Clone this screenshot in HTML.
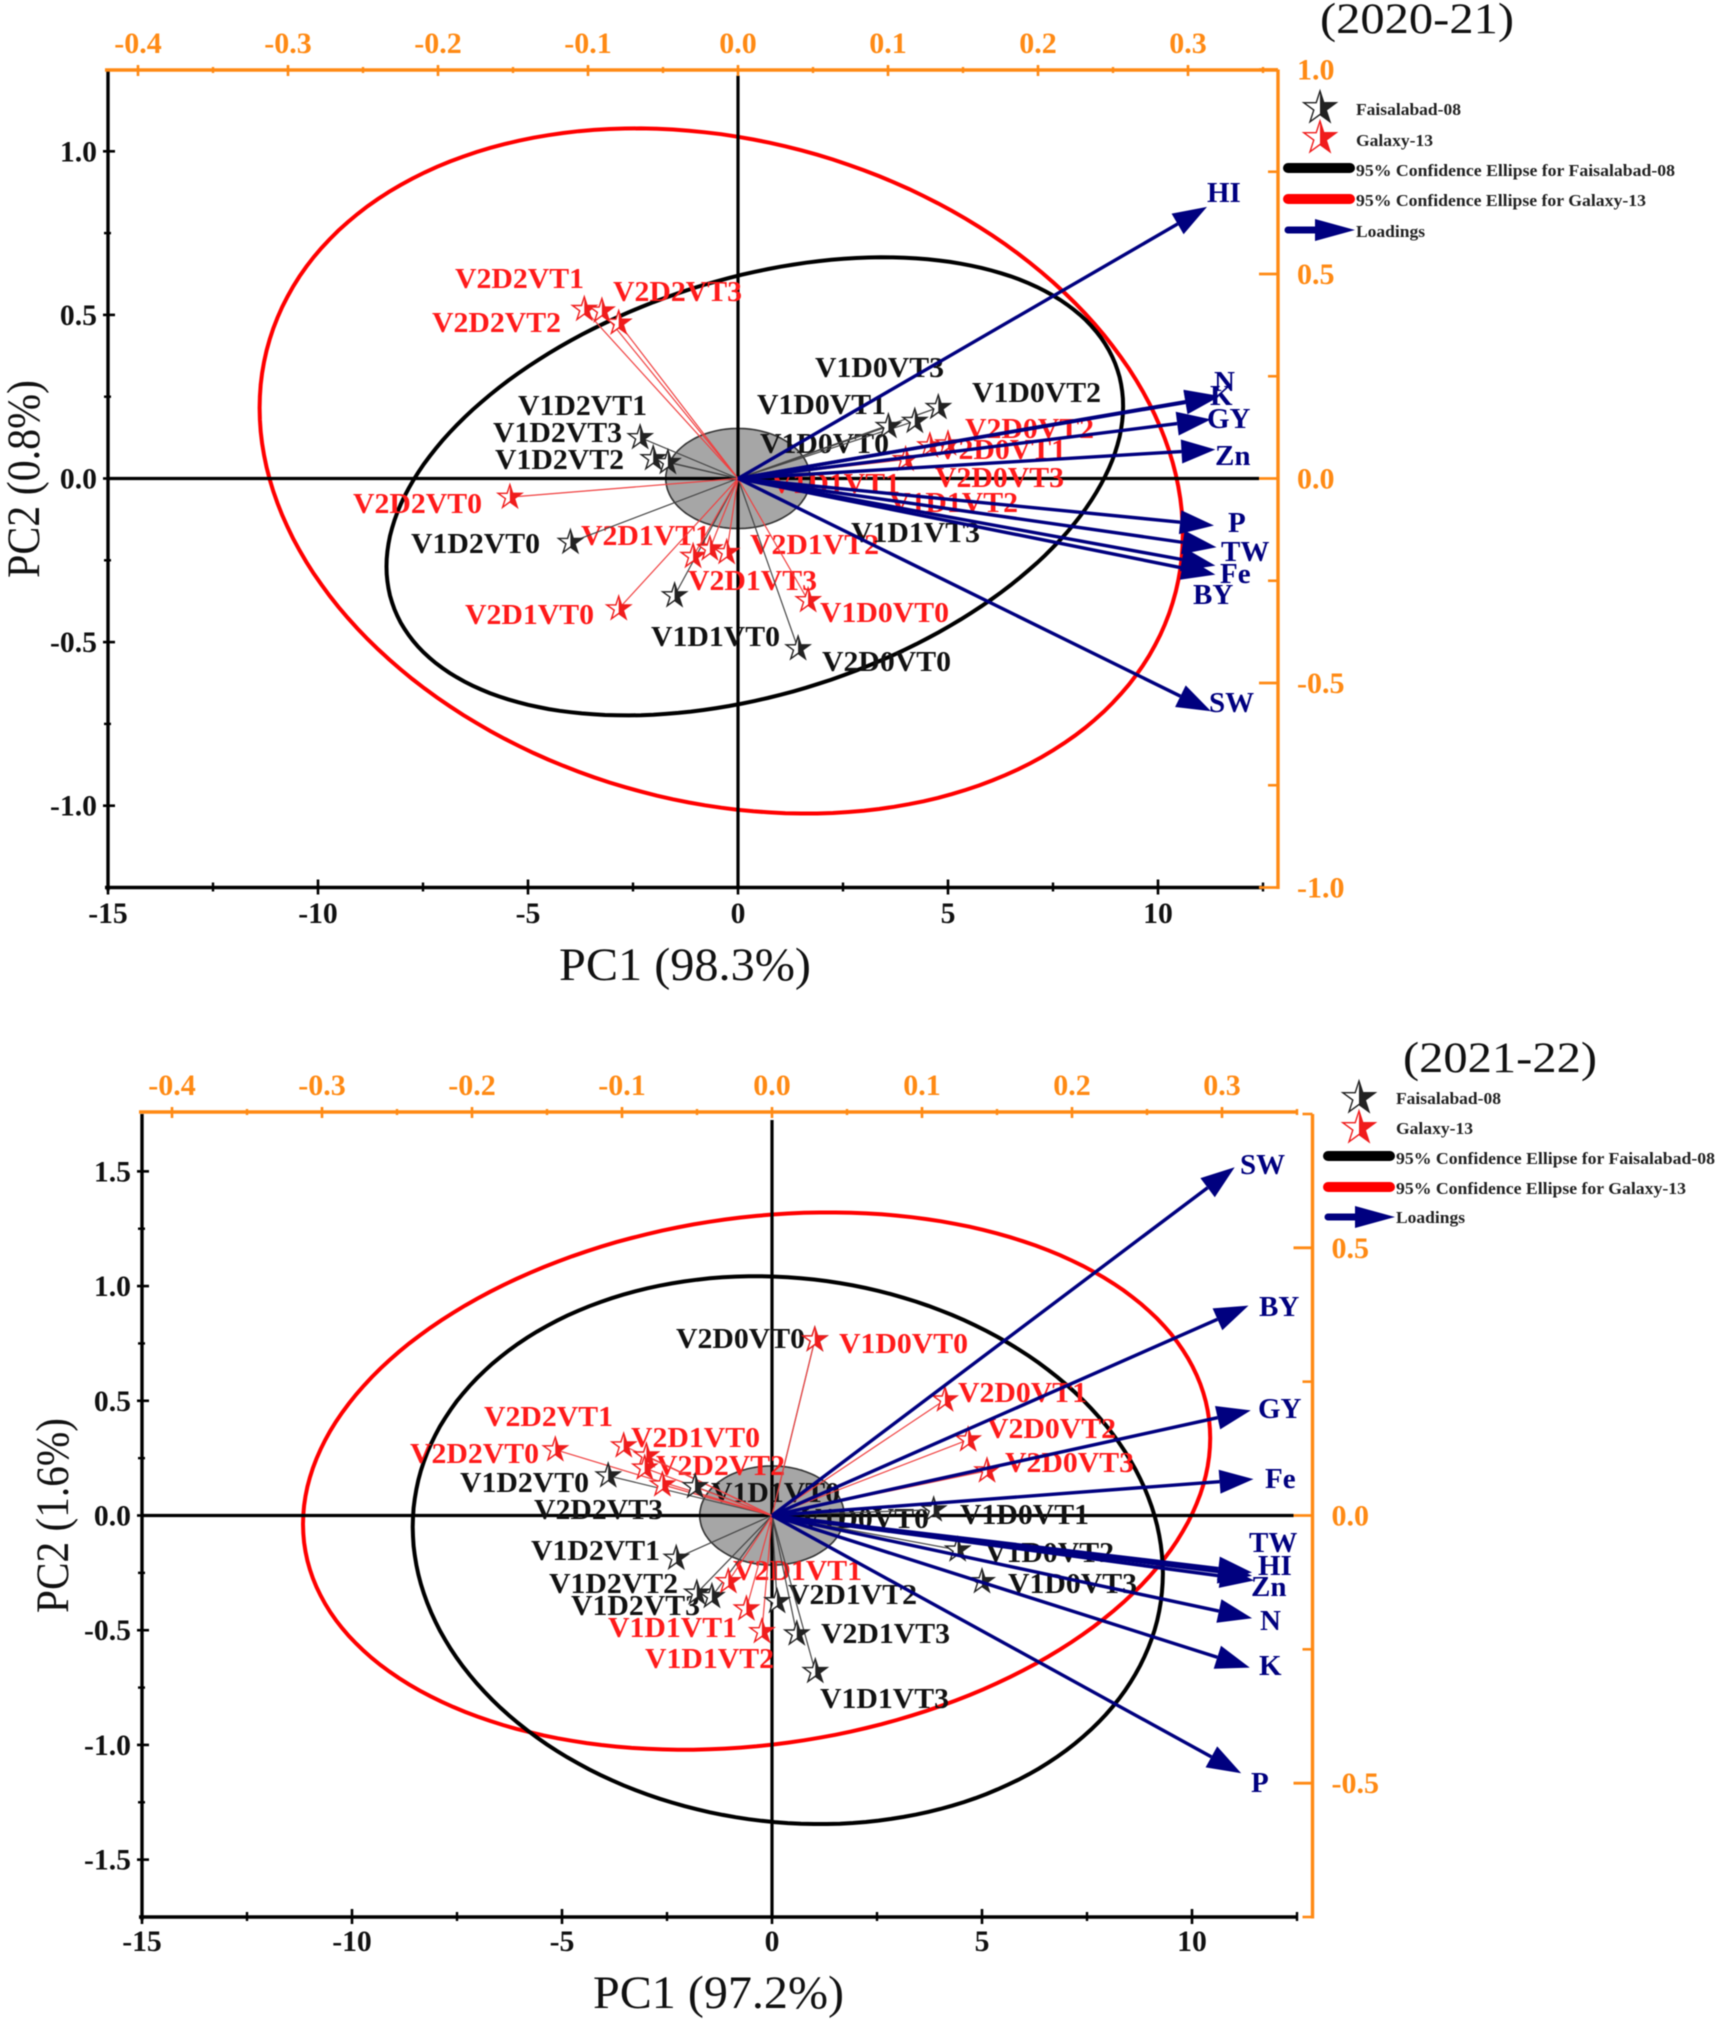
<!DOCTYPE html>
<html lang="en">
<head>
<meta charset="utf-8">
<title>PCA biplots 2020-21 and 2021-22</title>
<style>
html,body{margin:0;padding:0;background:#fff;}
svg{display:block;filter:blur(0.5px);}
text{font-family:"Liberation Serif",serif;}
.lb{font-size:29px;font-weight:bold;}
.r{fill:#ff1a1a;}
.k{fill:#111;}
.n{fill:#00007f;font-size:29px;font-weight:bold;}
.lg{font-size:17px;font-weight:bold;fill:#222;}
.ti{font-size:47px;fill:#111;}
.yr{font-size:43px;fill:#111;}
</style>
</head>
<body>
<svg id="chart" xmlns="http://www.w3.org/2000/svg" width="1719" height="2021" viewBox="0 0 1719 2021">
<rect width="1719" height="2021" fill="#fff"/>

<g id="p1-under"></g>
<g>
<text class="lb r" x="455" y="288" textLength="129" lengthAdjust="spacingAndGlyphs">V2D2VT1</text>
<text class="lb r" x="613" y="301" textLength="129" lengthAdjust="spacingAndGlyphs">V2D2VT3</text>
<text class="lb r" x="432" y="332" textLength="129" lengthAdjust="spacingAndGlyphs">V2D2VT2</text>
<text class="lb r" x="353" y="513" textLength="129" lengthAdjust="spacingAndGlyphs">V2D2VT0</text>
<text class="lb r" x="581" y="545" textLength="129" lengthAdjust="spacingAndGlyphs">V2D1VT1</text>
<text class="lb r" x="465" y="624" textLength="129" lengthAdjust="spacingAndGlyphs">V2D1VT0</text>
<text class="lb r" x="688" y="590" textLength="129" lengthAdjust="spacingAndGlyphs">V2D1VT3</text>
<text class="lb r" x="750" y="554" textLength="129" lengthAdjust="spacingAndGlyphs">V2D1VT2</text>
<text class="lb r" x="820" y="622" textLength="129" lengthAdjust="spacingAndGlyphs">V1D0VT0</text>
<text class="lb r" x="965" y="438" textLength="129" lengthAdjust="spacingAndGlyphs">V2D0VT2</text>
<text class="lb r" x="937" y="459" textLength="129" lengthAdjust="spacingAndGlyphs">V2D0VT1</text>
<text class="lb r" x="935" y="487" textLength="129" lengthAdjust="spacingAndGlyphs">V2D0VT3</text>
<text class="lb r" x="889" y="512" textLength="129" lengthAdjust="spacingAndGlyphs">V1D1VT2</text>
<text class="lb r" x="771" y="493" textLength="129" lengthAdjust="spacingAndGlyphs">V1D1VT1</text>
<text class="lb k" x="518" y="415" textLength="129" lengthAdjust="spacingAndGlyphs">V1D2VT1</text>
<text class="lb k" x="493" y="442" textLength="129" lengthAdjust="spacingAndGlyphs">V1D2VT3</text>
<text class="lb k" x="495" y="469" textLength="129" lengthAdjust="spacingAndGlyphs">V1D2VT2</text>
<text class="lb k" x="815" y="377" textLength="129" lengthAdjust="spacingAndGlyphs">V1D0VT3</text>
<text class="lb k" x="757" y="414" textLength="129" lengthAdjust="spacingAndGlyphs">V1D0VT1</text>
<text class="lb k" x="760" y="453" textLength="129" lengthAdjust="spacingAndGlyphs">V1D0VT0</text>
<text class="lb k" x="972" y="402" textLength="129" lengthAdjust="spacingAndGlyphs">V1D0VT2</text>
<text class="lb k" x="411" y="553" textLength="129" lengthAdjust="spacingAndGlyphs">V1D2VT0</text>
<text class="lb k" x="651" y="646" textLength="129" lengthAdjust="spacingAndGlyphs">V1D1VT0</text>
<text class="lb k" x="822" y="671" textLength="129" lengthAdjust="spacingAndGlyphs">V2D0VT0</text>
<text class="lb k" x="851" y="542" textLength="129" lengthAdjust="spacingAndGlyphs">V1D1VT3</text>
</g>
<g id="p1-over"></g>
<g>
<text class="n" x="1207" y="202">HI</text>
<text class="n" x="1214" y="391">N</text>
<text class="n" x="1210" y="405">K</text>
<text class="n" x="1207" y="428">GY</text>
<text class="n" x="1215" y="465">Zn</text>
<text class="n" x="1228" y="532">P</text>
<text class="n" x="1221" y="561">TW</text>
<text class="n" x="1220" y="583">Fe</text>
<text class="n" x="1193" y="604">BY</text>
<text class="n" x="1209" y="712">SW</text>
</g>
<text class="ti" x="559" y="980" textLength="252" lengthAdjust="spacingAndGlyphs">PC1 (98.3%)</text>
<text class="ti" x="39" y="578" transform="rotate(-90 39 578)" textLength="198" lengthAdjust="spacingAndGlyphs">PC2 (0.8%)</text>
<text class="yr" x="1320" y="33" textLength="194" lengthAdjust="spacingAndGlyphs">(2020-21)</text>
<g id="legend-2020">
<text class="lg" x="1356" y="115" textLength="105" lengthAdjust="spacingAndGlyphs">Faisalabad-08</text>
<text class="lg" x="1356" y="146" textLength="77" lengthAdjust="spacingAndGlyphs">Galaxy-13</text>
<line x1="1288" y1="168" x2="1350" y2="168" stroke="#000" stroke-width="10" stroke-linecap="round"/>
<text class="lg" x="1356" y="176" textLength="319" lengthAdjust="spacingAndGlyphs">95% Confidence Ellipse for Faisalabad-08</text>
<line x1="1288" y1="199" x2="1350" y2="199" stroke="#f00" stroke-width="10" stroke-linecap="round"/>
<text class="lg" x="1356" y="206" textLength="290" lengthAdjust="spacingAndGlyphs">95% Confidence Ellipse for Galaxy-13</text>
<line x1="1288" y1="230" x2="1325" y2="230" stroke="#00007f" stroke-width="7" stroke-linecap="round"/>
<polygon points="1315,219 1355,230 1315,241" fill="#00007f"/>
<text class="lg" x="1356" y="237" textLength="69" lengthAdjust="spacingAndGlyphs">Loadings</text>
</g>

<g id="p2-under"></g>
<g>
<text class="lb r" x="484" y="1426" textLength="129" lengthAdjust="spacingAndGlyphs">V2D2VT1</text>
<text class="lb r" x="631" y="1447" textLength="129" lengthAdjust="spacingAndGlyphs">V2D1VT0</text>
<text class="lb r" x="410" y="1463" textLength="129" lengthAdjust="spacingAndGlyphs">V2D2VT0</text>
<text class="lb r" x="656" y="1475" textLength="129" lengthAdjust="spacingAndGlyphs">V2D2VT2</text>
<text class="lb k" x="460" y="1492" textLength="129" lengthAdjust="spacingAndGlyphs">V1D2VT0</text>
<text class="lb k" x="534" y="1519" textLength="129" lengthAdjust="spacingAndGlyphs">V2D2VT3</text>
<text class="lb k" x="711" y="1502" textLength="129" lengthAdjust="spacingAndGlyphs">V1D1VT0</text>
<text class="lb k" x="800" y="1528" textLength="129" lengthAdjust="spacingAndGlyphs">V1D0VT0</text>
<text class="lb k" x="676" y="1348" textLength="129" lengthAdjust="spacingAndGlyphs">V2D0VT0</text>
<text class="lb r" x="839" y="1353" textLength="129" lengthAdjust="spacingAndGlyphs">V1D0VT0</text>
<text class="lb r" x="958" y="1402" textLength="129" lengthAdjust="spacingAndGlyphs">V2D0VT1</text>
<text class="lb r" x="987" y="1438" textLength="129" lengthAdjust="spacingAndGlyphs">V2D0VT2</text>
<text class="lb r" x="1005" y="1472" textLength="129" lengthAdjust="spacingAndGlyphs">V2D0VT3</text>
<text class="lb k" x="960" y="1524" textLength="129" lengthAdjust="spacingAndGlyphs">V1D0VT1</text>
<text class="lb k" x="985" y="1562" textLength="129" lengthAdjust="spacingAndGlyphs">V1D0VT2</text>
<text class="lb k" x="1008" y="1593" textLength="129" lengthAdjust="spacingAndGlyphs">V1D0VT3</text>
<text class="lb k" x="531" y="1560" textLength="129" lengthAdjust="spacingAndGlyphs">V1D2VT1</text>
<text class="lb k" x="549" y="1593" textLength="129" lengthAdjust="spacingAndGlyphs">V1D2VT2</text>
<text class="lb k" x="571" y="1615" textLength="129" lengthAdjust="spacingAndGlyphs">V1D2VT3</text>
<text class="lb r" x="733" y="1580" textLength="129" lengthAdjust="spacingAndGlyphs">V2D1VT1</text>
<text class="lb k" x="788" y="1604" textLength="129" lengthAdjust="spacingAndGlyphs">V2D1VT2</text>
<text class="lb k" x="821" y="1643" textLength="129" lengthAdjust="spacingAndGlyphs">V2D1VT3</text>
<text class="lb r" x="608" y="1637" textLength="129" lengthAdjust="spacingAndGlyphs">V1D1VT1</text>
<text class="lb r" x="645" y="1668" textLength="129" lengthAdjust="spacingAndGlyphs">V1D1VT2</text>
<text class="lb k" x="820" y="1708" textLength="129" lengthAdjust="spacingAndGlyphs">V1D1VT3</text>
</g>
<g id="p2-over"></g>
<g>
<text class="n" x="1240" y="1174">SW</text>
<text class="n" x="1259" y="1316">BY</text>
<text class="n" x="1258" y="1418">GY</text>
<text class="n" x="1265" y="1488">Fe</text>
<text class="n" x="1249" y="1552">TW</text>
<text class="n" x="1258" y="1575">HI</text>
<text class="n" x="1251" y="1596">Zn</text>
<text class="n" x="1260" y="1630">N</text>
<text class="n" x="1259" y="1675">K</text>
<text class="n" x="1251" y="1792">P</text>
</g>
<text class="ti" x="593" y="2008" textLength="251" lengthAdjust="spacingAndGlyphs">PC1 (97.2%)</text>
<text class="ti" x="68" y="1613" transform="rotate(-90 68 1613)" textLength="195" lengthAdjust="spacingAndGlyphs">PC2 (1.6%)</text>
<text class="yr" x="1403" y="1072" textLength="194" lengthAdjust="spacingAndGlyphs">(2021-22)</text>
<g id="legend-2021">
<text class="lg" x="1396" y="1104" textLength="105" lengthAdjust="spacingAndGlyphs">Faisalabad-08</text>
<text class="lg" x="1396" y="1134" textLength="77" lengthAdjust="spacingAndGlyphs">Galaxy-13</text>
<line x1="1328" y1="1156" x2="1390" y2="1156" stroke="#000" stroke-width="10" stroke-linecap="round"/>
<text class="lg" x="1396" y="1164" textLength="319" lengthAdjust="spacingAndGlyphs">95% Confidence Ellipse for Faisalabad-08</text>
<line x1="1328" y1="1187" x2="1390" y2="1187" stroke="#f00" stroke-width="10" stroke-linecap="round"/>
<text class="lg" x="1396" y="1194" textLength="290" lengthAdjust="spacingAndGlyphs">95% Confidence Ellipse for Galaxy-13</text>
<line x1="1328" y1="1217" x2="1365" y2="1217" stroke="#00007f" stroke-width="7" stroke-linecap="round"/>
<polygon points="1355,1206 1395,1217 1355,1228" fill="#00007f"/>
<text class="lg" x="1396" y="1223" textLength="69" lengthAdjust="spacingAndGlyphs">Loadings</text>
</g>
</svg>

<script>
// ---------- shared tick values ----------
const xTicks = [-15, -10, -5, 0, 5, 10];
const xMinorTicks = [-12.5, -7.5, -2.5, 2.5, 7.5, 12.5];
const topTicks = [-0.4, -0.3, -0.2, -0.1, 0, 0.1, 0.2, 0.3];
const topMinorTicks = [-0.35, -0.25, -0.15, -0.05, 0.05, 0.15, 0.25, 0.35];

// ---------- 2020-21 data ----------
const a_yTicks = [-1, -0.5, 0, 0.5, 1];
const a_yMinorTicks = [-0.75, -0.25, 0.25, 0.75];
const a_rightTicks = [-1, -0.5, 0, 0.5, 1];
const a_rightMinorTicks = [-0.75, -0.25, 0.25, 0.75];

const a_blackNames = ['V1D2VT1', 'V1D2VT3', 'V1D2VT2', 'V1D2VT0', 'V1D1VT3', 'V1D1VT0', 'V1D0VT2', 'V1D0VT3', 'V1D0VT1'];
const a_blackPC1 = [-2.33, -2.02, -1.67, -3.99, -1.51, 1.43, 4.77, 4.21, 3.58];
const a_blackPC2 = [0.125, 0.061, 0.049, -0.195, -0.358, -0.52, 0.217, 0.175, 0.159];

const a_redNames = ['V2D2VT1', 'V2D2VT2', 'V2D2VT3', 'V2D2VT0', 'V2D1VT0', 'V2D1VT1', 'V2D1VT3', 'V2D1VT2', 'V1D0VT0', 'V2D0VT3', 'V2D0VT1', 'V2D0VT2'];
const a_redPC1 = [-3.66, -3.24, -2.84, -5.43, -2.84, -1.07, -0.67, -0.27, 1.67, 3.99, 4.57, 5.0];
const a_redPC2 = [0.517, 0.512, 0.475, -0.057, -0.398, -0.238, -0.215, -0.226, -0.373, 0.058, 0.1, 0.106];

const a_loadingNames = ['HI', 'N', 'K', 'GY', 'Zn', 'P', 'TW', 'Fe', 'BY', 'SW'];
const a_loadingX = [0.3127, 0.3207, 0.3207, 0.3153, 0.3183, 0.3173, 0.319, 0.3183, 0.3183, 0.3153];
const a_loadingY = [0.664, 0.202, 0.2, 0.1446, 0.071, -0.115, -0.168, -0.213, -0.235, -0.569];

// ellipse: centre PC1, half-width, centre PC2, half-height, correlation
const a_redEllipse = [-0.4, 10.99, 0.023, 1.047, -0.184];
const a_blackEllipse = [0.4, 8.77, -0.024, 0.7, 0.35];
const a_grayEllipse = [0, 1.72, 0, 0.153, 0];

// ---------- 2021-22 data ----------
const b_yTicks = [-1.5, -1, -0.5, 0, 0.5, 1, 1.5];
const b_yMinorTicks = [-1.25, -0.75, -0.25, 0.25, 0.75, 1.25];
const b_rightTicks = [-0.5, 0, 0.5];
const b_rightMinorTicks = [-0.75, -0.25, 0.25, 0.75];

const b_blackNames = ['V1D1VT0', 'V1D2VT1', 'V1D2VT2', 'V1D2VT3', 'V2D1VT2', 'V2D1VT3', 'V1D1VT3', 'V1D2VT0', 'V1D0VT2', 'V1D0VT3', 'V1D0VT1', 'V2D0VT0'];
const b_blackPC1 = [-1.83, -2.28, -1.79, -1.43, 0.12, 0.59, 1.03, -3.9, 4.42, 5.0, 3.85, 1.02];
const b_blackPC2 = [0.126, -0.186, -0.338, -0.353, -0.375, -0.516, -0.68, 0.173, -0.15, -0.288, 0.025, 0.766];

const b_redNames = ['V2D2VT0', 'V2D2VT1', 'V2D1VT0', 'V2D2VT2', 'V2D2VT3', 'V1D0VT0', 'V2D0VT1', 'V2D0VT2', 'V2D0VT3', 'V2D1VT1', 'V1D1VT1', 'V1D1VT2'];
const b_redPC1 = [-5.16, -3.53, -2.99, -3.03, -2.61, 1.02, 4.12, 4.67, 5.12, -1.04, -0.61, -0.24];
const b_redPC2 = [0.287, 0.304, 0.26, 0.207, 0.134, 0.766, 0.504, 0.33, 0.195, -0.288, -0.407, -0.506];

const b_loadingNames = ['SW', 'BY', 'GY', 'Fe', 'TW', 'HI', 'Zn', 'N', 'K', 'P'];
const b_loadingX = [0.3085, 0.3177, 0.3192, 0.321, 0.3201, 0.3201, 0.3214, 0.3201, 0.3185, 0.3128];
const b_loadingY = [0.6505, 0.392, 0.1963, 0.068, -0.1065, -0.1127, -0.1215, -0.1918, -0.2841, -0.4815];

const b_redEllipse = [-0.367, 10.8, 0.15, 1.171, 0.16];
const b_blackEllipse = [0.376, 8.93, -0.151, 1.194, -0.085];
const b_grayEllipse = [0, 1.72, 0, 0.216, 0];

// ---------- drawing ----------
const NS = 'http://www.w3.org/2000/svg';
const ORANGE = '#ff8a14';
const NAVY = '#00007f';

function add(parent, tag, attrs, name) {
  const el = document.createElementNS(NS, tag);
  for (const k in attrs) el.setAttribute(k, attrs[k]);
  
  
  parent.appendChild(el);
  return el;
}

function addText(parent, str, attrs, name, stretch) {
  const t = add(parent, 'text', attrs, name);
  t.textContent = str;
  const w = t.getComputedTextLength();
  if (w > 0) {
    t.setAttribute('textLength', (w * stretch).toFixed(1));
    t.setAttribute('lengthAdjust', 'spacingAndGlyphs');
  }
  return t;
}

function star(parent, cx, cy, r, color, name) {
  const pts = [];
  for (let i = 0; i < 10; i++) {
    const rad = i % 2 ? r * 0.382 : r;
    const ang = -Math.PI / 2 + i * Math.PI / 5;
    pts.push([cx + rad * Math.cos(ang), cy + rad * Math.sin(ang)]);
  }
  const g = add(parent, 'g', {}, name);
  add(g, 'polygon', {
    points: pts.map(p => p[0].toFixed(1) + ',' + p[1].toFixed(1)).join(' '),
    fill: '#fff', stroke: color, 'stroke-width': 1.4
  }, name + '-outline');
  const half = pts.slice(0, 6);
  add(g, 'polygon', {
    points: half.map(p => p[0].toFixed(1) + ',' + p[1].toFixed(1)).join(' '),
    fill: color
  }, name + '-fill');
}

function ellipsePath(e, X, Y) {
  const cx = e[0], hw = e[1], cy = e[2], hh = e[3], rho = e[4];
  const k = Math.sqrt(1 - rho * rho);
  let d = '';
  for (let i = 0; i <= 180; i++) {
    const t = i / 180 * 2 * Math.PI;
    const px = X(cx + hw * Math.cos(t));
    const py = Y(cy + hh * (rho * Math.cos(t) + k * Math.sin(t)));
    d += (i ? 'L' : 'M') + px.toFixed(1) + ' ' + py.toFixed(1);
  }
  return d + 'Z';
}

function drawPlot(cfg, data) {
  const under = document.getElementById(cfg.id + '-under');
  const over = document.getElementById(cfg.id + '-over');
  const W = cfg.right - cfg.left, H = cfg.bottom - cfg.top;
  const X = v => cfg.left + (v + 15) / 27.5 * W;
  const Y = v => cfg.top + (cfg.yMax - v) / (2 * cfg.yMax) * H;
  const TX = v => cfg.left + (v + 0.42) / 0.77 * W;
  const RY = v => cfg.top + (cfg.rMax - v) / (2 * cfg.rMax) * H;
  const x0 = X(0), y0 = Y(0);

  add(under, 'path', { d: ellipsePath(data.gray, X, Y), fill: '#a6a6a6', stroke: '#333', 'stroke-width': 1.6 }, 'loading-unit-circle');
  add(under, 'path', { d: ellipsePath(data.red, X, Y), fill: 'none', stroke: '#f00', 'stroke-width': 4 }, 'confidence-ellipse-galaxy-13');
  add(under, 'path', { d: ellipsePath(data.black, X, Y), fill: 'none', stroke: '#000', 'stroke-width': 4 }, 'confidence-ellipse-faisalabad-08');
  add(under, 'line', { x1: x0, y1: cfg.top + 6, x2: x0, y2: cfg.bottom, stroke: '#000', 'stroke-width': 3.2 }, 'zero-line-vertical');
  add(under, 'line', { x1: cfg.left, y1: y0, x2: cfg.axisRight - 19, y2: y0, stroke: '#000', 'stroke-width': 3.2 }, 'zero-line-horizontal');

  // score vectors and stars
  data.blackPC1.forEach((v, i) => {
    add(over, 'line', { x1: x0, y1: y0, x2: X(v), y2: Y(data.blackPC2[i]), stroke: '#444', 'stroke-width': 1.2 }, 'score-line-' + data.blackNames[i]);
  });
  data.redPC1.forEach((v, i) => {
    add(over, 'line', { x1: x0, y1: y0, x2: X(v), y2: Y(data.redPC2[i]), stroke: '#f04040', 'stroke-width': 1.2 }, 'score-line-red-' + data.redNames[i]);
  });
  data.blackPC1.forEach((v, i) => {
    star(over, X(v), Y(data.blackPC2[i]), 12.5, '#222', 'star-' + data.blackNames[i]);
  });
  data.redPC1.forEach((v, i) => {
    star(over, X(v), Y(data.redPC2[i]), 12.5, '#f01c1c', 'star-red-' + data.redNames[i]);
  });

  // loading arrows
  data.loadX.forEach((v, i) => {
    const tx = TX(v), ty = RY(data.loadY[i]);
    const a = Math.atan2(ty - y0, tx - x0);
    const L = 34, hw = 12;
    const bx = tx - L * Math.cos(a), by = ty - L * Math.sin(a);
    add(over, 'line', { x1: x0, y1: y0, x2: bx, y2: by, stroke: NAVY, 'stroke-width': 3.4 }, 'loading-shaft-' + data.loadNames[i]);
    const pts = [tx, ty, bx - hw * Math.sin(a), by + hw * Math.cos(a), bx + hw * Math.sin(a), by - hw * Math.cos(a)];
    add(over, 'polygon', { points: pts.map(n => n.toFixed(1)).join(' '), fill: NAVY }, 'loading-arrow-' + data.loadNames[i]);
  });

  // axis frame
  add(over, 'line', { x1: cfg.left, y1: cfg.top, x2: cfg.left, y2: cfg.bottom + 3, stroke: '#000', 'stroke-width': 3.4 }, 'left-axis');
  add(over, 'line', { x1: cfg.left - 3, y1: cfg.bottom, x2: cfg.right, y2: cfg.bottom, stroke: '#000', 'stroke-width': 3.6 }, 'bottom-axis');
  add(over, 'line', { x1: cfg.left - 3, y1: cfg.topLine, x2: cfg.right + cfg.topExtra, y2: cfg.topLine, stroke: ORANGE, 'stroke-width': 3.6 }, 'top-axis');
  add(over, 'line', { x1: cfg.axisRight, y1: cfg.top, x2: cfg.axisRight, y2: cfg.bottom + 1.5, stroke: ORANGE, 'stroke-width': 3.4 }, 'right-axis');

  // ticks
  xTicks.forEach(v => {
    add(over, 'line', { x1: X(v), y1: cfg.bottom - 8, x2: X(v), y2: cfg.bottom + 7, stroke: '#000', 'stroke-width': 2.6 }, 'x-tick');
    addText(over, String(v), { x: X(v), y: cfg.bottomLabel, 'text-anchor': 'middle', 'font-size': 30, 'font-weight': 'bold', fill: '#111' }, 'x-tick-label', 0.99);
  });
  xMinorTicks.forEach(v => {
    add(over, 'line', { x1: X(v), y1: cfg.bottom - 5, x2: X(v), y2: cfg.bottom + 4, stroke: '#000', 'stroke-width': 2.4 }, 'x-minor-tick');
  });
  data.yTicks.forEach(v => {
    add(over, 'line', { x1: cfg.left - 5, y1: Y(v), x2: cfg.left + 7, y2: Y(v), stroke: '#000', 'stroke-width': 2.6 }, 'y-tick');
    addText(over, v.toFixed(1), { x: cfg.left - 11, y: Y(v) + 10, 'text-anchor': 'end', 'font-size': 30, 'font-weight': 'bold', fill: '#111' }, 'y-tick-label', 0.99);
  });
  data.yMinor.forEach(v => {
    add(over, 'line', { x1: cfg.left - 4, y1: Y(v), x2: cfg.left + 3, y2: Y(v), stroke: '#000', 'stroke-width': 2.4 }, 'y-minor-tick');
  });
  topTicks.forEach(v => {
    add(over, 'line', { x1: TX(v), y1: cfg.topLine - 5, x2: TX(v), y2: cfg.topLine + 6, stroke: ORANGE, 'stroke-width': 2.6 }, 'top-tick');
    addText(over, v.toFixed(1), { x: TX(v), y: cfg.topLabel, 'text-anchor': 'middle', 'font-size': 30, 'font-weight': 'bold', fill: ORANGE }, 'top-tick-label', 1.0);
  });
  topMinorTicks.forEach(v => {
    add(over, 'line', { x1: TX(v), y1: cfg.topLine - 3, x2: TX(v), y2: cfg.topLine + 3, stroke: ORANGE, 'stroke-width': 2.4 }, 'top-minor-tick');
  });
  data.rightTicks.forEach(v => {
    add(over, 'line', { x1: cfg.axisRight - 19, y1: RY(v), x2: cfg.axisRight, y2: RY(v), stroke: ORANGE, 'stroke-width': 2.8 }, 'right-tick');
    addText(over, v.toFixed(1), { x: cfg.axisRight + 19, y: RY(v) + 10, 'font-size': 30, 'font-weight': 'bold', fill: ORANGE }, 'right-tick-label', 1.0);
  });
  data.rightMinor.forEach(v => {
    add(over, 'line', { x1: cfg.axisRight - 10, y1: RY(v), x2: cfg.axisRight, y2: RY(v), stroke: ORANGE, 'stroke-width': 2.6 }, 'right-minor-tick');
  });
}

drawPlot({
  id: 'p1', left: 108, right: 1263, top: 69.5, bottom: 887.5, topLine: 70, topExtra: 15,
  axisRight: 1278, yMax: 1.25, rMax: 1, bottomLabel: 923, topLabel: 53
}, {
  gray: a_grayEllipse, red: a_redEllipse, black: a_blackEllipse,
  blackNames: a_blackNames, blackPC1: a_blackPC1, blackPC2: a_blackPC2,
  redNames: a_redNames, redPC1: a_redPC1, redPC2: a_redPC2,
  loadNames: a_loadingNames, loadX: a_loadingX, loadY: a_loadingY,
  yTicks: a_yTicks, yMinor: a_yMinorTicks, rightTicks: a_rightTicks, rightMinor: a_rightMinorTicks
});

drawPlot({
  id: 'p2', left: 142, right: 1297, top: 1114, bottom: 1917, topLine: 1112, topExtra: 0,
  axisRight: 1312.5, yMax: 1.75, rMax: 0.75, bottomLabel: 1951, topLabel: 1095
}, {
  gray: b_grayEllipse, red: b_redEllipse, black: b_blackEllipse,
  blackNames: b_blackNames, blackPC1: b_blackPC1, blackPC2: b_blackPC2,
  redNames: b_redNames, redPC1: b_redPC1, redPC2: b_redPC2,
  loadNames: b_loadingNames, loadX: b_loadingX, loadY: b_loadingY,
  yTicks: b_yTicks, yMinor: b_yMinorTicks, rightTicks: b_rightTicks, rightMinor: b_rightMinorTicks
});

// legend stars
const legendA = document.getElementById('legend-2020');
const legendB = document.getElementById('legend-2021');
star(legendA, 1320, 108, 17, '#222', 'legend-star-faisalabad');
star(legendA, 1320, 138, 17, '#f01c1c', 'legend-star-galaxy');
star(legendB, 1359, 1098, 17, '#222', 'legend2-star-faisalabad');
star(legendB, 1359, 1128, 17, '#f01c1c', 'legend2-star-galaxy');
</script>
</body>
</html>
